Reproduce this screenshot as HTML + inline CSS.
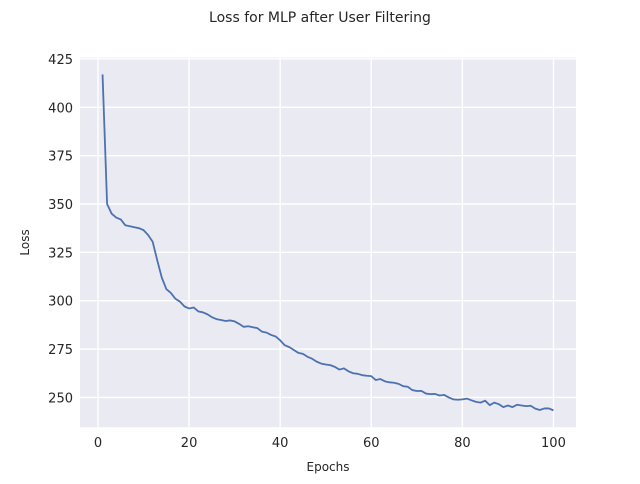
<!DOCTYPE html>
<html><head><meta charset="utf-8"><style>
body{margin:0;background:#fff;font-family:"DejaVu Sans","Liberation Sans",sans-serif}
</style></head><body>
<svg id="chart" width="640" height="480" xmlns="http://www.w3.org/2000/svg">
<text x="320" y="22" text-anchor="middle" font-size="14" fill="#262626">Loss for MLP after User Filtering</text>
<g id="plot"></g>
</svg>
<script>
const epochs=[];for(let i=1;i<=100;i++)epochs.push(i);
const loss=[417,350,345,343,342,339,338.5,338,337.5,336.5,334,330.5,321,312,306,304,301,299.5,297,296,296.5,294.5,294,293,291.5,290.5,290,289.5,289.8,289.3,288,286.5,286.8,286.3,285.8,284,283.5,282.3,281.5,279.5,277,276,274.5,273,272.5,271,270,268.5,267.5,267,266.7,265.8,264.4,265,263.5,262.5,262.2,261.5,261.2,261,259,259.5,258.3,257.8,257.6,257,255.8,255.5,253.8,253.3,253.4,252,251.7,251.8,251,251.3,250,249,248.8,249,249.4,248.5,247.7,247.3,248.3,246,247.3,246.5,245,245.8,245,246.2,245.8,245.5,245.7,244.2,243.5,244.3,244.3,243.3];
const xTicks=[0,20,40,60,80,100];
const yTicks=[250,275,300,325,350,375,400,425];
const L=80,R=576,T=57.6,B=427.2;
const xmin=-3.95,xmax=104.95,ymin=234.6,ymax=425.7;
const X=v=>L+(v-xmin)/(xmax-xmin)*(R-L);
const Y=v=>B-(v-ymin)/(ymax-ymin)*(B-T);
const NS="http://www.w3.org/2000/svg";
const g=document.getElementById('plot');
function mk(t,a){const e=document.createElementNS(NS,t);for(const k in a)e.setAttribute(k,a[k]);g.appendChild(e);return e;}
const bg=mk('rect',{x:L,y:T,width:R-L,height:B-T,fill:'#EAEAF2'});


xTicks.forEach(t=>{
 const l=mk('line',{x1:X(t),x2:X(t),y1:T,y2:B,stroke:'#fff','stroke-width':1.4});
 
 
 const tx=mk('text',{x:X(t),y:B+20,'text-anchor':'middle','font-size':13,fill:'#262626'});
 tx.textContent=t;
 
 
});
yTicks.forEach(t=>{
 const l=mk('line',{x1:L,x2:R,y1:Y(t),y2:Y(t),stroke:'#fff','stroke-width':1.4});
 
 
 const tx=mk('text',{x:L-7,y:Y(t)+5,'text-anchor':'end','font-size':13,fill:'#262626'});
 tx.textContent=t;
 
 
});
const p=mk('polyline',{points:epochs.map((e,i)=>X(e)+','+Y(loss[i])).join(' '),fill:'none',stroke:'#4C72B0','stroke-width':1.8,'stroke-linejoin':'round'});


const xl=mk('text',{x:(L+R)/2,y:471,'text-anchor':'middle','font-size':12,fill:'#262626'});
xl.textContent='Epochs';


const yl=mk('text',{x:29,y:(T+B)/2,'text-anchor':'middle','font-size':12,fill:'#262626',transform:'rotate(-90 29 '+((T+B)/2)+')'});
yl.textContent='Loss';


</script>
</body></html>
